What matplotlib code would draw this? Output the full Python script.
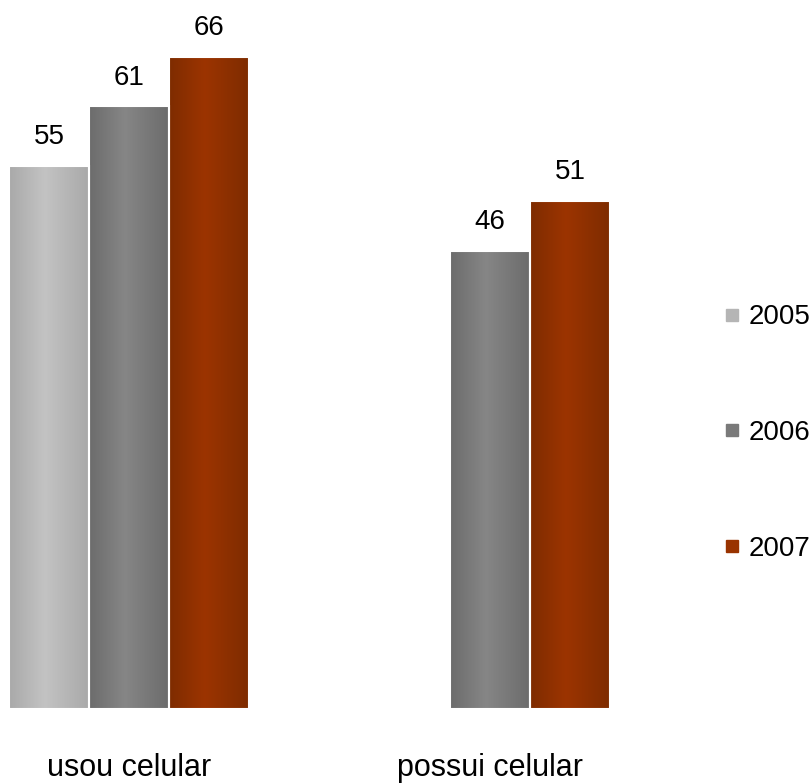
import numpy as np
import matplotlib
matplotlib.use("Agg")
import matplotlib.pyplot as plt
from matplotlib.colors import LinearSegmentedColormap
from matplotlib.lines import Line2D
from matplotlib import font_manager

categories = ["usou celular", "possui celular"]
series = ["2005", "2006", "2007"]
values_2005 = [55.0, None]
values_2006 = [61.0, 46.4]
values_2007 = [66.0, 51.4]
all_values = [values_2005, values_2006, values_2007]

# gradient colours (edge, center) per series
edge_colors = ["#a9a9a9", "#6c6c6c", "#7e2c00"]
center_colors = ["#c3c3c3", "#868686", "#9c3400"]
legend_colors = ["#b5b5b5", "#7a7a7a", "#993300"]

names = {f.name for f in font_manager.fontManager.ttflist}
fam = "Liberation Sans Narrow" if "Liberation Sans Narrow" in names else "Liberation Sans"
plt.rcParams["font.family"] = [fam, "DejaVu Sans"]

W, H = 812, 784
fig = plt.figure(figsize=(W / 100, H / 100), dpi=100)
ax = fig.add_axes([0, 0, 1, 1])
ax.set_axis_off()

unit = 361.0  # px between category centres
x0 = 129.0    # px of first category centre
ppu = 9.88    # px per value unit
base = 75.0   # px from bottom of baseline
ax.set_xlim(-x0 / unit, (W - x0) / unit)
ax.set_ylim(-base / ppu, (H - base) / ppu)

bw = 80.0 / unit
x = np.arange(len(categories))
for i, (vals, s) in enumerate(zip(all_values, series)):
    pos = x + (i - 1) * bw
    for xp, v in zip(pos, vals):
        if v is None:
            continue
        rect = ax.bar(xp, v, width=bw, color=center_colors[i], edgecolor="white",
                      linewidth=1.2, zorder=2)[0]
        cmap = LinearSegmentedColormap.from_list(
            "g", [(0, edge_colors[i]), (0.45, center_colors[i]), (1, edge_colors[i])])
        grad = np.linspace(0, 1, 256).reshape(1, -1)
        im = ax.imshow(grad, cmap=cmap, aspect="auto",
                       extent=[xp - bw / 2, xp + bw / 2, 0, v], zorder=2.5)
        im.set_clip_path(rect)
        ax.bar(xp, v, width=bw, fill=False, edgecolor="white", linewidth=1.5, zorder=3)
        ax.text(xp, v + 1.6, f"{v:.0f}", ha="center", va="bottom", fontsize=20, color="black")

for xi, c in zip(x, categories):
    ax.text(xi, -6.0, c, ha="center", va="center", fontsize=22, color="black")

handles = [Line2D([], [], marker="s", linestyle="none", markersize=9,
                  markerfacecolor=c, markeredgecolor=c) for c in legend_colors]
leg = fig.legend(handles, series, loc="center left", bbox_to_anchor=(718 / W, 1 - 433 / H),
                 frameon=False, fontsize=20, labelspacing=3.23, handletextpad=0.1,
                 handlelength=1.0, borderpad=0, borderaxespad=0)

fig.savefig("out.png", dpi=100)
